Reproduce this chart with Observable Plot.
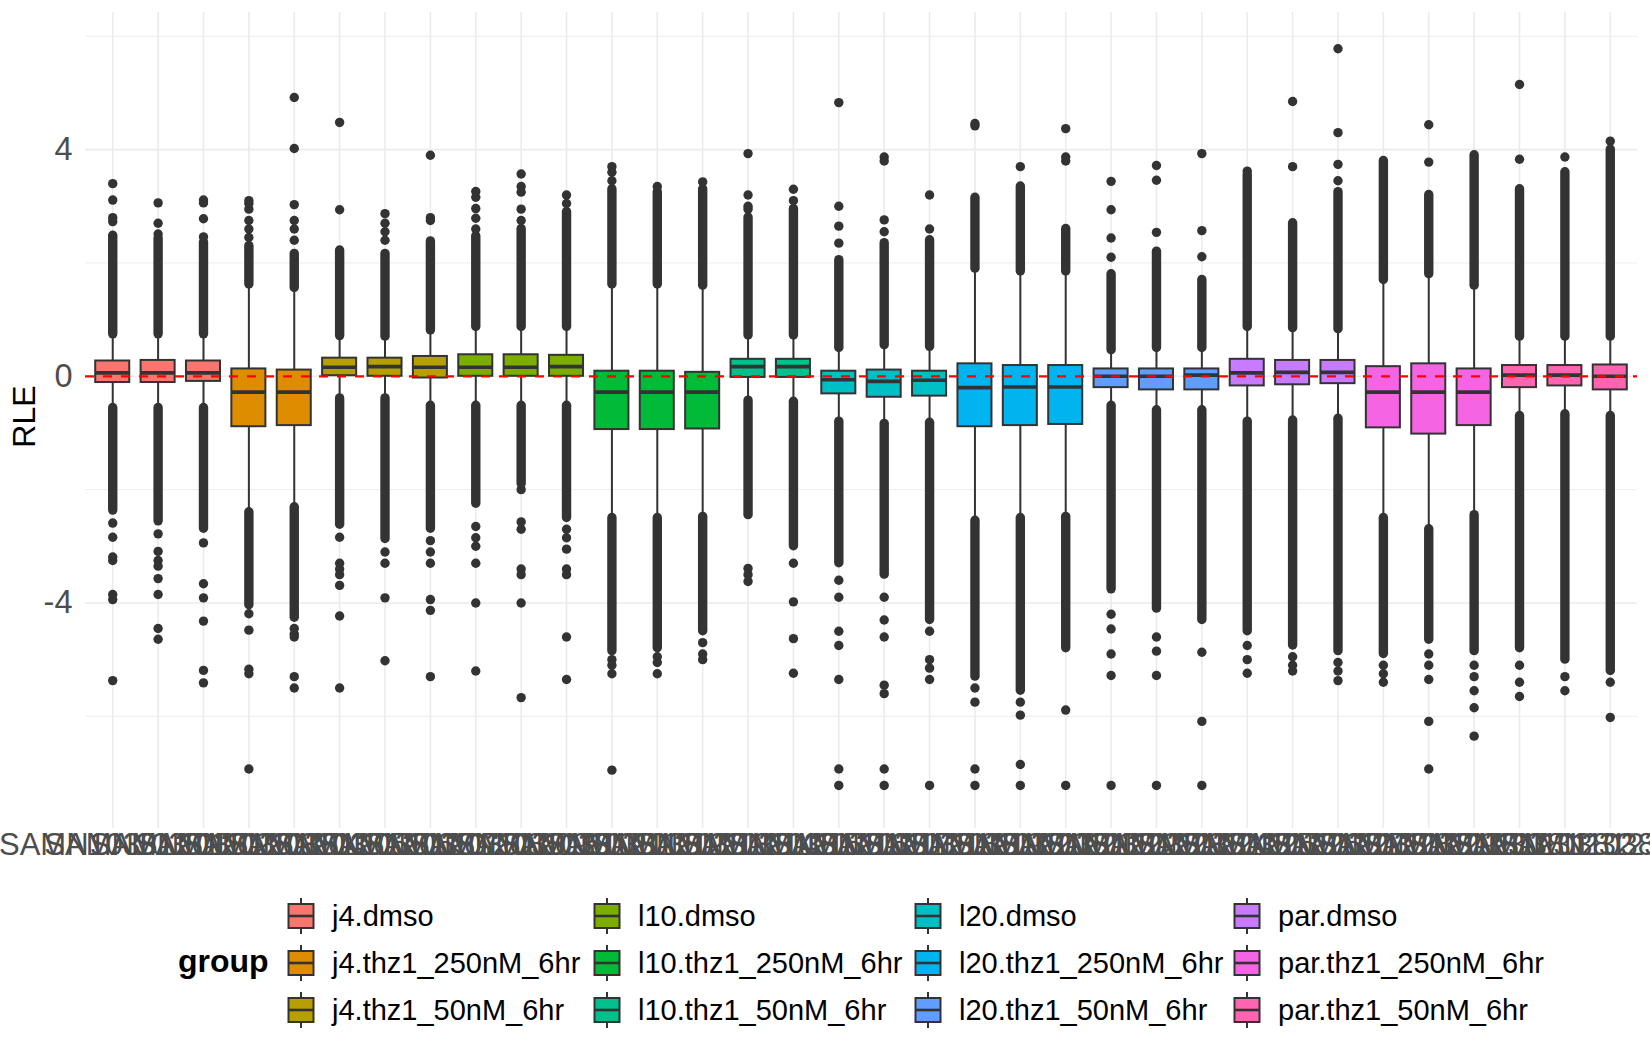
<!DOCTYPE html>
<html>
<head>
<meta charset="utf-8">
<script src="https://cdn.jsdelivr.net/npm/d3@7"></script>
<script src="https://cdn.jsdelivr.net/npm/@observablehq/plot@0.6"></script>
<style>
  html, body { margin: 0; padding: 0; background: #fff; }
  #wrap { position: relative; width: 1650px; height: 1050px; font-family: "Liberation Sans", Arial, sans-serif; }
  .lg-title { position: absolute; font-weight: bold; font-size: 32px; color: #000; }
  .lg-item { position: absolute; display: flex; align-items: center; font-size: 29px; color: #000; white-space: nowrap; }
  .lg-item svg { margin-right: 17px; }
</style>
</head>
<body>
<div id="wrap"></div>
<script>
// ---- data ----
const groups = ["j4.dmso","j4.thz1_250nM_6hr","j4.thz1_50nM_6hr","l10.dmso","l10.thz1_250nM_6hr","l10.thz1_50nM_6hr",
                "l20.dmso","l20.thz1_250nM_6hr","l20.thz1_50nM_6hr","par.dmso","par.thz1_250nM_6hr","par.thz1_50nM_6hr"];
const palette = ["#F8766D","#DE8C00","#B79F00","#7CAE00","#00BA38","#00C08B","#00BFC4","#00B4F0","#619CFF","#C77CFF","#F564E3","#FF64B0"];
const groupCounts = [3,2,3,3,3,2,3,3,3,3,3,3];
const sampleIds = ["SAMN10381201","SAMN10381202","SAMN10381203","SAMN10381204","SAMN10381205","SAMN10381206",
  "SAMN10381207","SAMN10381208","SAMN10381209","SAMN10381210","SAMN10381211","SAMN10381212","SAMN10381213",
  "SAMN10381214","SAMN10381215","SAMN10381216","SAMN10381217","SAMN10381218","SAMN10381219","SAMN10381220",
  "SAMN10381221","SAMN10381222","SAMN10381223","SAMN10381224","SAMN10381225","SAMN10381226","SAMN10381227",
  "SAMN10381228","SAMN10381229","SAMN10381230","SAMN10381231","SAMN10381232","SAMN10381233","SAMN10381234"];
const q1 = [-0.11,-0.11,-0.09,-0.89,-0.87,0.01,0.0,-0.03,0.0,0.0,0.0,-0.94,-0.94,-0.93,-0.02,-0.02,-0.31,-0.37,-0.35,-0.89,-0.87,-0.85,-0.2,-0.24,-0.24,-0.17,-0.15,-0.13,-0.91,-1.02,-0.87,-0.2,-0.17,-0.24];
const median = [0.06,0.06,0.06,-0.28,-0.28,0.16,0.17,0.16,0.16,0.16,0.17,-0.28,-0.28,-0.28,0.17,0.17,-0.06,-0.09,-0.07,-0.2,-0.19,-0.19,0.0,0.0,0.02,0.06,0.07,0.07,-0.28,-0.28,-0.28,0.02,0.02,0.0];
const q3 = [0.27,0.28,0.27,0.13,0.11,0.32,0.32,0.35,0.38,0.38,0.37,0.09,0.09,0.07,0.3,0.3,0.09,0.11,0.09,0.22,0.19,0.19,0.13,0.13,0.13,0.3,0.28,0.28,0.17,0.22,0.13,0.19,0.19,0.2];
const whiskerHigh = [0.74,0.74,0.74,1.62,1.56,0.71,0.70,0.81,0.87,0.87,0.87,1.62,1.62,1.6,0.72,0.72,0.5,0.55,0.52,1.9,1.85,1.85,0.46,0.5,0.5,0.87,0.85,0.83,1.7,1.8,1.6,0.7,0.7,0.7];
const whiskerLow = [-0.56,-0.56,-0.56,-2.40,-2.31,-0.39,-0.39,-0.52,-0.52,-0.52,-0.52,-2.5,-2.5,-2.48,-0.43,-0.45,-0.8,-0.84,-0.82,-2.55,-2.5,-2.48,-0.52,-0.6,-0.6,-0.8,-0.78,-0.75,-2.5,-2.7,-2.45,-0.7,-0.67,-0.7];
// upper / lower ends of the dense runs of outliers that start at the whisker ends
const denseHighEnd = [2.48,2.43,2.36,2.3,2.16,2.22,2.16,2.38,2.47,2.6,2.9,3.3,3.25,3.3,2.8,2.95,2.05,2.35,2.4,3.15,3.35,2.6,1.8,2.2,1.7,3.55,2.7,3.25,3.8,3.2,3.9,3.3,3.6,4.0];
const denseLowEnd = [-2.37,-2.56,-2.69,-4.04,-4.26,-2.62,-2.87,-2.69,-2.25,-1.9,-2.5,-4.85,-4.8,-4.5,-2.45,-3.0,-3.3,-3.5,-4.3,-5.3,-5.55,-4.8,-3.76,-4.1,-4.3,-4.5,-4.75,-4.85,-4.9,-4.65,-4.85,-4.8,-5.0,-5.2];
// sparse single outliers
const outliers = [
  [2.73,2.8,3.11,3.40,-2.59,-2.84,-3.19,-3.25,-3.85,-3.94,-5.37],
  [2.51,2.70,3.06,-2.78,-3.09,-3.25,-3.35,-3.57,-3.85,-4.45,-4.64],
  [2.46,2.78,3.06,3.11,-2.94,-3.66,-3.91,-4.32,-5.19,-5.41],
  [2.45,2.6,2.75,2.95,3.05,3.1,-4.19,-4.48,-5.17,-5.25,-6.93],
  [2.4,2.6,2.75,3.03,4.02,4.92,-4.45,-4.55,-4.6,-5.3,-5.5],
  [2.94,4.48,-2.84,-3.3,-3.4,-3.5,-3.69,-4.23,-5.5],
  [2.4,2.55,2.7,2.87,-3.1,-3.3,-3.91,-5.02],
  [2.75,2.8,3.9,-2.9,-3.1,-3.3,-3.94,-4.13,-5.3],
  [2.6,2.79,2.96,3.16,3.26,-2.65,-2.85,-3.0,-3.3,-4.0,-5.2],
  [2.75,2.95,3.25,3.35,3.57,-2.0,-2.57,-2.7,-3.4,-3.5,-4.0,-5.67],
  [3.05,3.2,-2.7,-2.85,-3.05,-3.4,-3.5,-4.6,-5.35],
  [3.45,3.6,3.7,-5.0,-5.1,-5.25,-6.95],
  [3.35,-4.95,-5.05,-5.25],
  [3.43,-4.7,-4.9,-5.0],
  [2.95,3.0,3.2,3.93,-3.39,-3.5,-3.62],
  [3.1,3.3,-3.3,-3.98,-4.63,-5.24],
  [2.35,2.65,3.0,4.83,-3.6,-3.9,-4.5,-4.75,-5.35,-6.93,-7.22],
  [2.55,2.76,3.8,3.87,-3.9,-4.3,-4.6,-5.45,-5.6,-6.93,-7.22],
  [2.6,3.2,-4.5,-5.0,-5.15,-5.35,-7.22],
  [4.42,4.46,-5.5,-5.75,-6.93,-7.22],
  [3.7,-5.75,-5.98,-6.85,-7.22],
  [3.8,3.87,4.37,-5.89,-7.22],
  [2.1,2.44,2.94,3.44,-4.2,-4.46,-4.9,-5.28,-7.22],
  [2.54,3.46,3.72,-4.6,-4.85,-5.28,-7.22],
  [2.11,2.57,3.93,-4.87,-6.09,-7.22],
  [3.62,-4.75,-5.0,-5.24],
  [3.7,4.85,-4.95,-5.1,-5.2],
  [3.45,3.74,4.3,5.78,-5.05,-5.2,-5.37],
  [-5.1,-5.25,-5.4],
  [3.78,4.44,-4.9,-5.1,-5.35,-6.09,-6.93],
  [-5.1,-5.3,-5.55,-5.85,-6.35],
  [3.83,5.15,-5.1,-5.4,-5.65],
  [3.87,-5.3,-5.55],
  [4.15,-5.4,-6.02]
];
const yTicks = [-4, 0, 4];
const yMinor = [-6, -2, 2, 6];

// ---- tables ----
const sampleGroup = groupCounts.flatMap((n, g) => Array(n).fill(groups[g]));
const boxes = sampleIds.map((id, i) => ({
  id, group: sampleGroup[i], q1: q1[i], med: median[i], q3: q3[i],
  wLo: whiskerLow[i], wHi: whiskerHigh[i], dHi: denseHighEnd[i], dLo: denseLowEnd[i]
}));
const outTable = outliers.flatMap((arr, i) => arr.map(v => ({id: sampleIds[i], v})));

const dark = "#333333";
const chart = Plot.plot({
  width: 1650, height: 872,
  marginLeft: 85, marginRight: 13, marginTop: 12, marginBottom: 44,
  style: {fontFamily: "'Liberation Sans', Arial, sans-serif", background: "white", overflow: "visible"},
  x: {type: "band", domain: sampleIds, paddingInner: 0.25, paddingOuter: 0.225, round: false},
  y: {domain: [-7.98, 6.42]},
  color: {domain: groups, range: palette},
  marks: [
    Plot.ruleY(yMinor, {stroke: "#EBEBEB", strokeWidth: 0.9}),
    Plot.ruleY(yTicks, {stroke: "#EBEBEB", strokeWidth: 1.6}),
    Plot.ruleX(sampleIds, {x: d => d, stroke: "#EBEBEB", strokeWidth: 1.6}),
    Plot.axisX({tickSize: 0, tickPadding: 4, fontSize: 31, color: "#4D4D4D", label: null}),
    Plot.axisY({ticks: yTicks, tickFormat: d => String(d), tickSize: 0, tickPadding: 13, fontSize: 32.5, color: "#4D4D4D", label: null}),
    Plot.text(["RLE"], {frameAnchor: "left", dx: -61, dy: -4, rotate: -90, textAnchor: "middle", fontSize: 32, fill: "black"}),
    Plot.ruleX(boxes, {x: "id", y1: "q3", y2: "wHi", stroke: dark, strokeWidth: 2}),
    Plot.ruleX(boxes, {x: "id", y1: "wLo", y2: "q1", stroke: dark, strokeWidth: 2}),
    Plot.ruleX(boxes, {x: "id", y1: "wHi", y2: "dHi", stroke: dark, strokeWidth: 9.4, strokeLinecap: "round"}),
    Plot.ruleX(boxes, {x: "id", y1: "wLo", y2: "dLo", stroke: dark, strokeWidth: 9.4, strokeLinecap: "round"}),
    Plot.dot(outTable, {x: "id", y: "v", r: 4.7, fill: dark, stroke: "none"}),
    Plot.barY(boxes, {x: "id", y1: "q1", y2: "q3", fill: "group", stroke: dark, strokeWidth: 2}),
    Plot.tickY(boxes, {x: "id", y: "med", stroke: dark, strokeWidth: 3.6}),
    Plot.ruleY([0], {stroke: "#FF0000", strokeWidth: 2.2, strokeDasharray: "9,9"})
  ]
});
const wrap = document.getElementById("wrap");
chart.style.position = "absolute";
chart.style.left = "0px";
chart.style.top = "0px";
wrap.appendChild(chart);

// ---- legend ----
const colX = [287, 593, 914, 1233];
const rowY = [916, 963, 1010];
const title = document.createElement("div");
title.className = "lg-title";
title.textContent = "group";
title.style.left = "178px";
title.style.top = (rowY[1] - 20) + "px";
wrap.appendChild(title);
groups.forEach((g, i) => {
  const col = Math.floor(i / 3), row = i % 3;
  const item = document.createElement("div");
  item.className = "lg-item";
  item.style.left = colX[col] + "px";
  item.style.top = (rowY[row] - 20) + "px";
  item.style.height = "40px";
  item.innerHTML = `<svg width="28" height="38" viewBox="0 0 28 38">
    <line x1="14" x2="14" y1="1" y2="37" stroke="${dark}" stroke-width="2"/>
    <rect x="1.5" y="7" width="25" height="24" fill="${palette[i]}" stroke="${dark}" stroke-width="2"/>
    <line x1="1.5" x2="26.5" y1="19" y2="19" stroke="${dark}" stroke-width="2.6"/>
  </svg><span>${g}</span>`;
  wrap.appendChild(item);
});
</script>
</body>
</html>
